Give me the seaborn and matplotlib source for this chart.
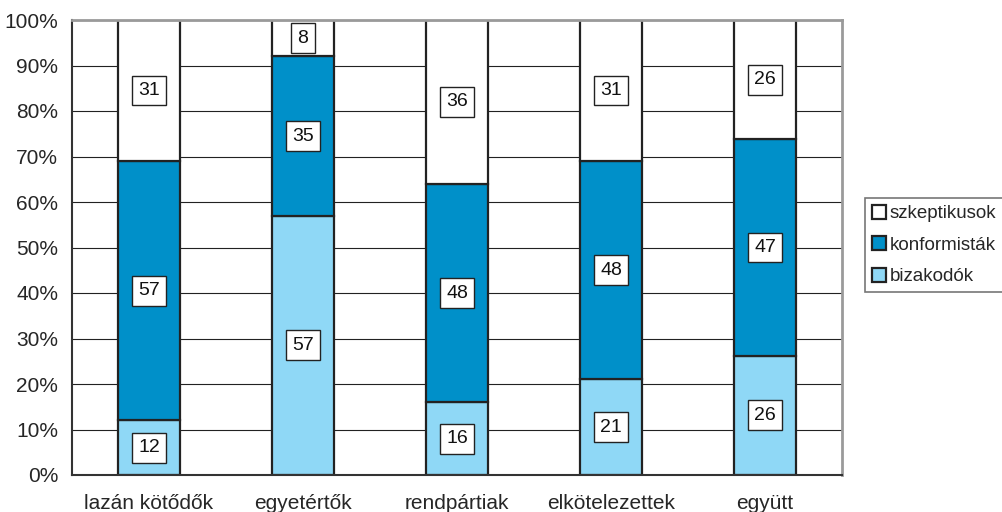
import numpy as np
import pandas as pd
import matplotlib
matplotlib.use('Agg')
import matplotlib.pyplot as plt
import seaborn as sns

categories = ['lazán kötődők', 'egyetértők', 'rendpártiak', 'elkötelezettek', 'együtt']
bizakodok = [12, 57, 16, 21, 26]
konformistak = [57, 35, 48, 48, 47]
szkeptikusok = [31, 8, 36, 31, 26]

series_names = ['bizakodók', 'konformisták', 'szkeptikusok']
colors = ['#8fd8f6', '#0090c9', '#ffffff']

sns.set_style('white')
plt.rcParams['font.family'] = ['Liberation Sans', 'DejaVu Sans']

df = pd.DataFrame({'kategoria': categories, 'bizakodók': bizakodok,
                   'konformisták': konformistak, 'szkeptikusok': szkeptikusok})
raw = df[series_names].to_numpy(dtype=float)
pct = raw / raw.sum(axis=1, keepdims=True) * 100

fig = plt.figure(figsize=(10.03, 5.12), dpi=100)
ax = fig.add_axes([72 / 1003, 37 / 512, 770 / 1003, 455 / 512])

# gridlines behind bars
ax.set_axisbelow(True)
ax.yaxis.grid(True, color='#222222', linewidth=0.8)

bottom = np.zeros(len(categories))
for i, name in enumerate(series_names):
    sns.barplot(x=df['kategoria'], y=pct[:, i], bottom=bottom, color=colors[i],
                edgecolor='#222222', linewidth=1.6, width=0.4, ax=ax,
                saturation=1, label=name)
    for j in range(len(categories)):
        ax.text(j, bottom[j] + pct[j, i] / 2, f'{raw[j, i]:.0f}',
                ha='center', va='center', fontsize=14, color='#111111',
                bbox=dict(boxstyle='square,pad=0.33', facecolor='white',
                          edgecolor='#222222', linewidth=1.0))
    bottom = bottom + pct[:, i]

ax.set_xlim(-0.5, len(categories) - 0.5)
ax.set_ylim(0, 100)
ax.set_yticks(np.arange(0, 101, 10))
ax.set_yticklabels([f'{v}%' for v in range(0, 101, 10)], fontsize=15)
ax.set_xticks(range(len(categories)))
ax.set_xticklabels(categories, fontsize=15)
ax.set_xticks(np.arange(-0.5, len(categories)), minor=True)
ax.tick_params(axis='x', which='major', length=0, pad=14)
ax.tick_params(axis='x', which='minor', length=6, width=1, color='#333333', direction='out')
ax.tick_params(axis='y', length=6, width=1, color='#333333', direction='out', pad=4)
ax.set_xlabel('')
ax.set_ylabel('')

for side in ['left', 'bottom']:
    ax.spines[side].set_color('#333333')
    ax.spines[side].set_linewidth(1.5)
for side in ['top', 'right']:
    ax.spines[side].set_visible(True)
    ax.spines[side].set_color('#9a9a9a')
    ax.spines[side].set_linewidth(2)

h, l = ax.get_legend_handles_labels()
if ax.get_legend() is not None:
    ax.get_legend().remove()
leg = fig.legend(h[::-1], l[::-1], loc='center left',
                 bbox_to_anchor=(865 / 1003, 267 / 512), fontsize=13.5,
                 frameon=True, fancybox=False, edgecolor='#555555',
                 handlelength=0.75, handleheight=0.75, handletextpad=0.2,
                 labelspacing=0.75, borderpad=0.35, borderaxespad=0)
leg.get_frame().set_linewidth(1.2)

fig.savefig('out.png', dpi=100)
